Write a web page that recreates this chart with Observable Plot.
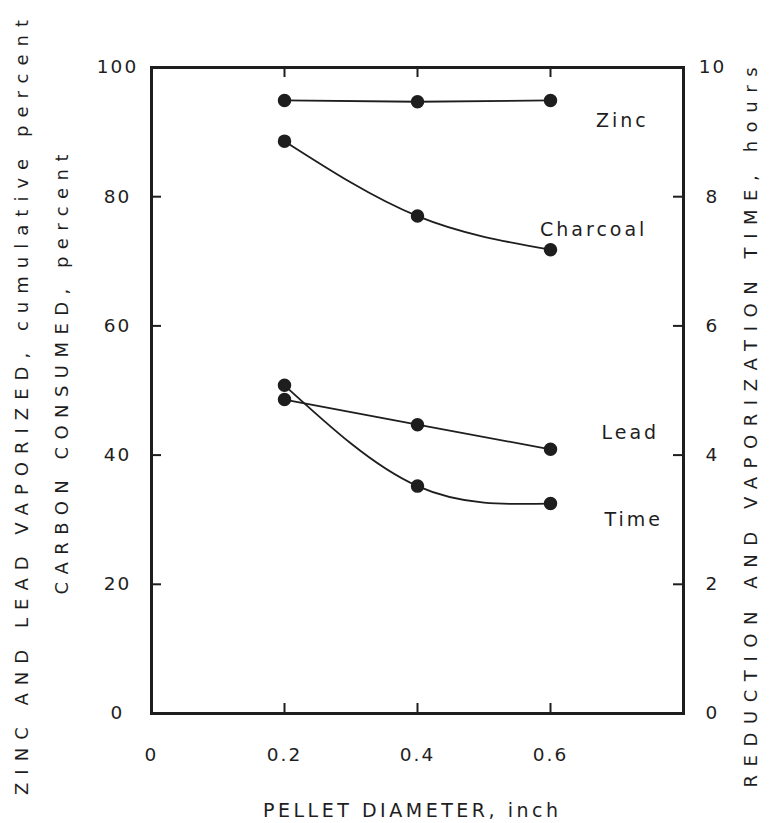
<!DOCTYPE html>
<html><head><meta charset="utf-8">
<script src="https://cdn.jsdelivr.net/npm/d3@7"></script>
<script src="https://cdn.jsdelivr.net/npm/@observablehq/plot@0.6"></script>
<style>
html,body{margin:0;padding:0;background:#fff;}
</style></head><body><div id="chart"></div>
<script>
// ---- data ----
const diameters = [0.2, 0.4, 0.6];                 // pellet diameter, inch
const zinc = [94.9, 94.7, 94.9];                   // % vaporized
const charcoal = [88.6, 77.0, 71.8];               // % carbon consumed
const lead = [48.6, 44.7, 40.9];                   // % vaporized
const timeHours = [5.08, 3.52, 3.25];              // hours (right axis)
const xTickValues = [0, 0.2, 0.4, 0.6];
const xInnerTicks = [0.2, 0.4, 0.6];
const yLeftTicks = [0, 20, 40, 60, 80, 100];
const yInnerTicks = [20, 40, 60, 80];
const yRightTickLabels = [0, 2, 4, 6, 8, 10];
const seriesNames = ["Zinc", "Charcoal", "Lead", "Time"];
const labelX = [0.708, 0.665, 0.72, 0.725];
const labelY = [91.7, 74.8, 43.5, 30.0];

const W = 775, H = 823;
const mL = 151, mR = 92, mT = 67, mB = 110;
const innerW = W - mL - mR, innerH = H - mT - mB;

// time is plotted on the percent scale: 10 h = 100 %
const series = [
  {name: "Zinc", values: zinc, curve: "linear"},
  {name: "Charcoal", values: charcoal, curve: "natural"},
  {name: "Lead", values: lead, curve: "linear"},
  {name: "Time", values: timeHours.map(h => h * 10), curve: "natural"}
];
const rows = series.flatMap(s => diameters.map((d, i) => ({name: s.name, x: d, y: s.values[i]})));
const labels = seriesNames.map((n, i) => ({name: n, x: labelX[i], y: labelY[i]}));

const ink = "#1e1e1e";
const t1 = "ZINC AND LEAD VAPORIZED, cumulative percent";
const t2 = "CARBON CONSUMED, percent";
const t3 = "REDUCTION AND VAPORIZATION TIME, hours";
const t4 = "PELLET DIAMETER, inch";

const chart = Plot.plot({
  width: W, height: H,
  marginLeft: mL, marginRight: mR, marginTop: mT, marginBottom: mB,
  style: {fontFamily: "DejaVu Sans", fontSize: "18px", color: ink, background: "#fff", letterSpacing: "2px"},
  x: {domain: [0, 0.8]},
  y: {domain: [0, 100]},
  marks: [
    // inward ticks
    Plot.ruleX(xInnerTicks, {x: d => d, insetTop: innerH - 10, stroke: ink, strokeWidth: 2}),
    Plot.ruleX(xInnerTicks, {x: d => d, insetBottom: innerH - 10, stroke: ink, strokeWidth: 2}),
    Plot.ruleY(yInnerTicks, {y: d => d, insetRight: innerW - 10, stroke: ink, strokeWidth: 2}),
    Plot.ruleY(yInnerTicks, {y: d => d, insetLeft: innerW - 10, stroke: ink, strokeWidth: 2}),
    Plot.frame({stroke: ink, strokeWidth: 3}),
    Plot.axisX(xTickValues, {tickSize: 0, tickPadding: 34, tickFormat: d => d === 0 ? "0" : d3.format(".1f")(d), fontSize: 18.5, label: null}),
    Plot.axisY(yLeftTicks, {anchor: "left", tickSize: 0, tickPadding: 34, textAnchor: "middle", fontSize: 18.5, label: null}),
    Plot.axisY(yRightTickLabels.map(v => v * 10), {anchor: "right", tickSize: 0, tickPadding: 29, textAnchor: "middle", tickFormat: d => String(d / 10), fontSize: 18.5, label: null}),
    // series
    ...series.map(s => Plot.line(rows.filter(r => r.name === s.name), {x: "x", y: "y", curve: s.curve, stroke: ink, strokeWidth: 1.8})),
    Plot.dot(rows, {x: "x", y: "y", r: 6, fill: ink, stroke: ink}),
    Plot.text(labels, {x: "x", y: "y", text: "name", fontSize: 19, fill: ink, letterSpacing: 3}),
    // axis titles
    Plot.text([t4], {frameAnchor: "bottom", dy: 97, lineAnchor: "middle", fontSize: 19, fill: ink, textAnchor: "middle", dx: -7}),
    Plot.text([t1], {frameAnchor: "left", dx: -129, dy: 17, rotate: -90, textAnchor: "middle", fontSize: 18, fill: ink}),
    Plot.text([t2], {frameAnchor: "left", dx: -89, dy: -16, rotate: -90, textAnchor: "middle", fontSize: 18, fill: ink}),
    Plot.text([t3], {frameAnchor: "right", dx: 68, dy: 37, rotate: -90, textAnchor: "middle", fontSize: 18, fill: ink})
  ]
});

document.getElementById("chart").appendChild(chart);
const fit = {[t1]: 775, [t2]: 440, [t3]: 720, [t4]: 295};
d3.select(chart).selectAll("text").each(function () {
  const t = this.textContent;
  if (fit[t]) {
    this.style.letterSpacing = "0px";
    const len = this.getComputedTextLength();
    const ls = (fit[t] - len) / (t.length - 1);
    this.style.letterSpacing = ls + "px";
    this.setAttribute("dx", String(ls / 2));
  } else if (seriesNames.includes(t)) {
    this.style.letterSpacing = "3px";
  }
});
</script>
</body></html>
